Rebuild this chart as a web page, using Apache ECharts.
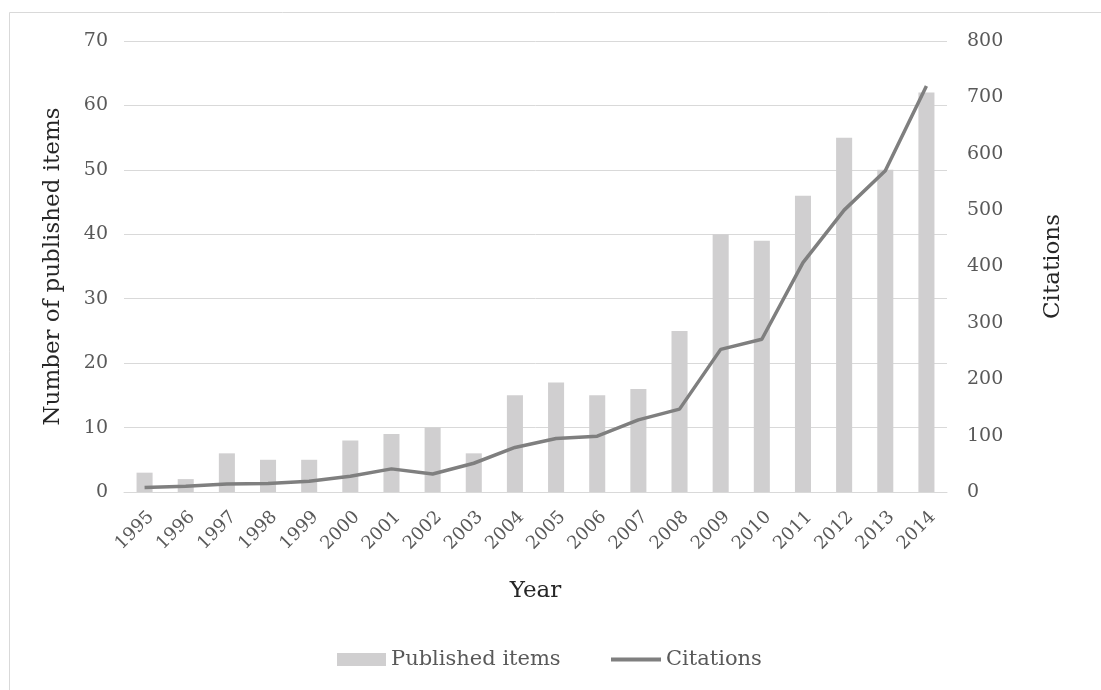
<!DOCTYPE html>
<html>
<head>
<meta charset="utf-8">
<script src="https://cdn.jsdelivr.net/npm/echarts@6/dist/echarts.min.js"></script>
<style>
html,body{margin:0;padding:0;background:#fff;}
#chart{width:1101px;height:690px;}
</style>
</head>
<body>
<div id="chart"></div>
<script>
const years = ['1995','1996','1997','1998','1999','2000','2001','2002','2003','2004','2005','2006','2007','2008','2009','2010','2011','2012','2013','2014'];
const publishedItems = [3,2,6,5,5,8,9,10,6,15,17,15,16,25,40,39,46,55,50,62];
const citations = [8,10,14,15,19,28,41,32,51,79,95,99,128,147,253,271,407,500,570,720];
const leftTicks = {min:0, max:70, interval:10};
const rightTicks = {min:0, max:800, interval:100};

const FONT = 'DejaVu Serif';
const chart = echarts.init(document.getElementById('chart'), null, {renderer:'canvas'});
chart.setOption({
  animation:false,
  backgroundColor:'#ffffff',
  textStyle:{fontFamily:FONT},
  graphic:[{
    type:'rect', silent:true, z:-10,
    shape:{x:9.5, y:12.5, width:1300, height:900},
    style:{fill:'none', stroke:'#d9d9d9', lineWidth:1}
  }],
  grid:{left:124, right:154, top:41, bottom:198, containLabel:false},
  legend:[{
    left:337, top:649, padding:0,
    itemWidth:49, itemHeight:13,
    textStyle:{fontFamily:FONT, fontSize:21, color:'#595959'},
    data:[{name:'Published items', icon:'rect'}]
  },{
    left:611, top:649, padding:0,
    itemWidth:50, itemHeight:4,
    textStyle:{fontFamily:FONT, fontSize:21, color:'#595959'},
    data:[{name:'Citations', icon:'rect'}]
  }],
  xAxis:{
    type:'category', data:years,
    name:'Year', nameLocation:'middle', nameGap:88,
    nameTextStyle:{fontFamily:FONT, fontSize:23, color:'#262626'},
    axisLine:{show:true, lineStyle:{color:'#d9d9d9', width:1}},
    axisTick:{show:false},
    axisLabel:{rotate:45, interval:0, fontFamily:FONT, fontSize:18, color:'#595959', margin:16, verticalAlign:'top'}
  },
  yAxis:[{
    type:'value', min:leftTicks.min, max:leftTicks.max, interval:leftTicks.interval,
    name:'Number of published items', nameLocation:'middle', nameGap:59, nameRotate:90,
    nameTextStyle:{fontFamily:FONT, fontSize:23, color:'#262626'},
    axisLine:{show:false}, axisTick:{show:false},
    axisLabel:{fontFamily:FONT, fontSize:19, color:'#595959', margin:16},
    splitLine:{lineStyle:{color:'#d9d9d9', width:1}}
  },{
    type:'value', min:rightTicks.min, max:rightTicks.max, interval:rightTicks.interval,
    name:'Citations', nameLocation:'middle', nameGap:95, nameRotate:90,
    nameTextStyle:{fontFamily:FONT, fontSize:23, color:'#262626'},
    axisLine:{show:false}, axisTick:{show:false},
    axisLabel:{fontFamily:FONT, fontSize:19, color:'#595959', margin:20},
    splitLine:{show:false}
  }],
  series:[{
    name:'Published items', type:'bar', data:publishedItems, yAxisIndex:0,
    barWidth:'39%', itemStyle:{color:'#d0cfd0'}
  },{
    name:'Citations', type:'line', data:citations, yAxisIndex:1,
    symbol:'none', showSymbol:false,
    lineStyle:{color:'#7f7f7f', width:3.5}, itemStyle:{color:'#7f7f7f'}
  }]
});
</script>
</body>
</html>
